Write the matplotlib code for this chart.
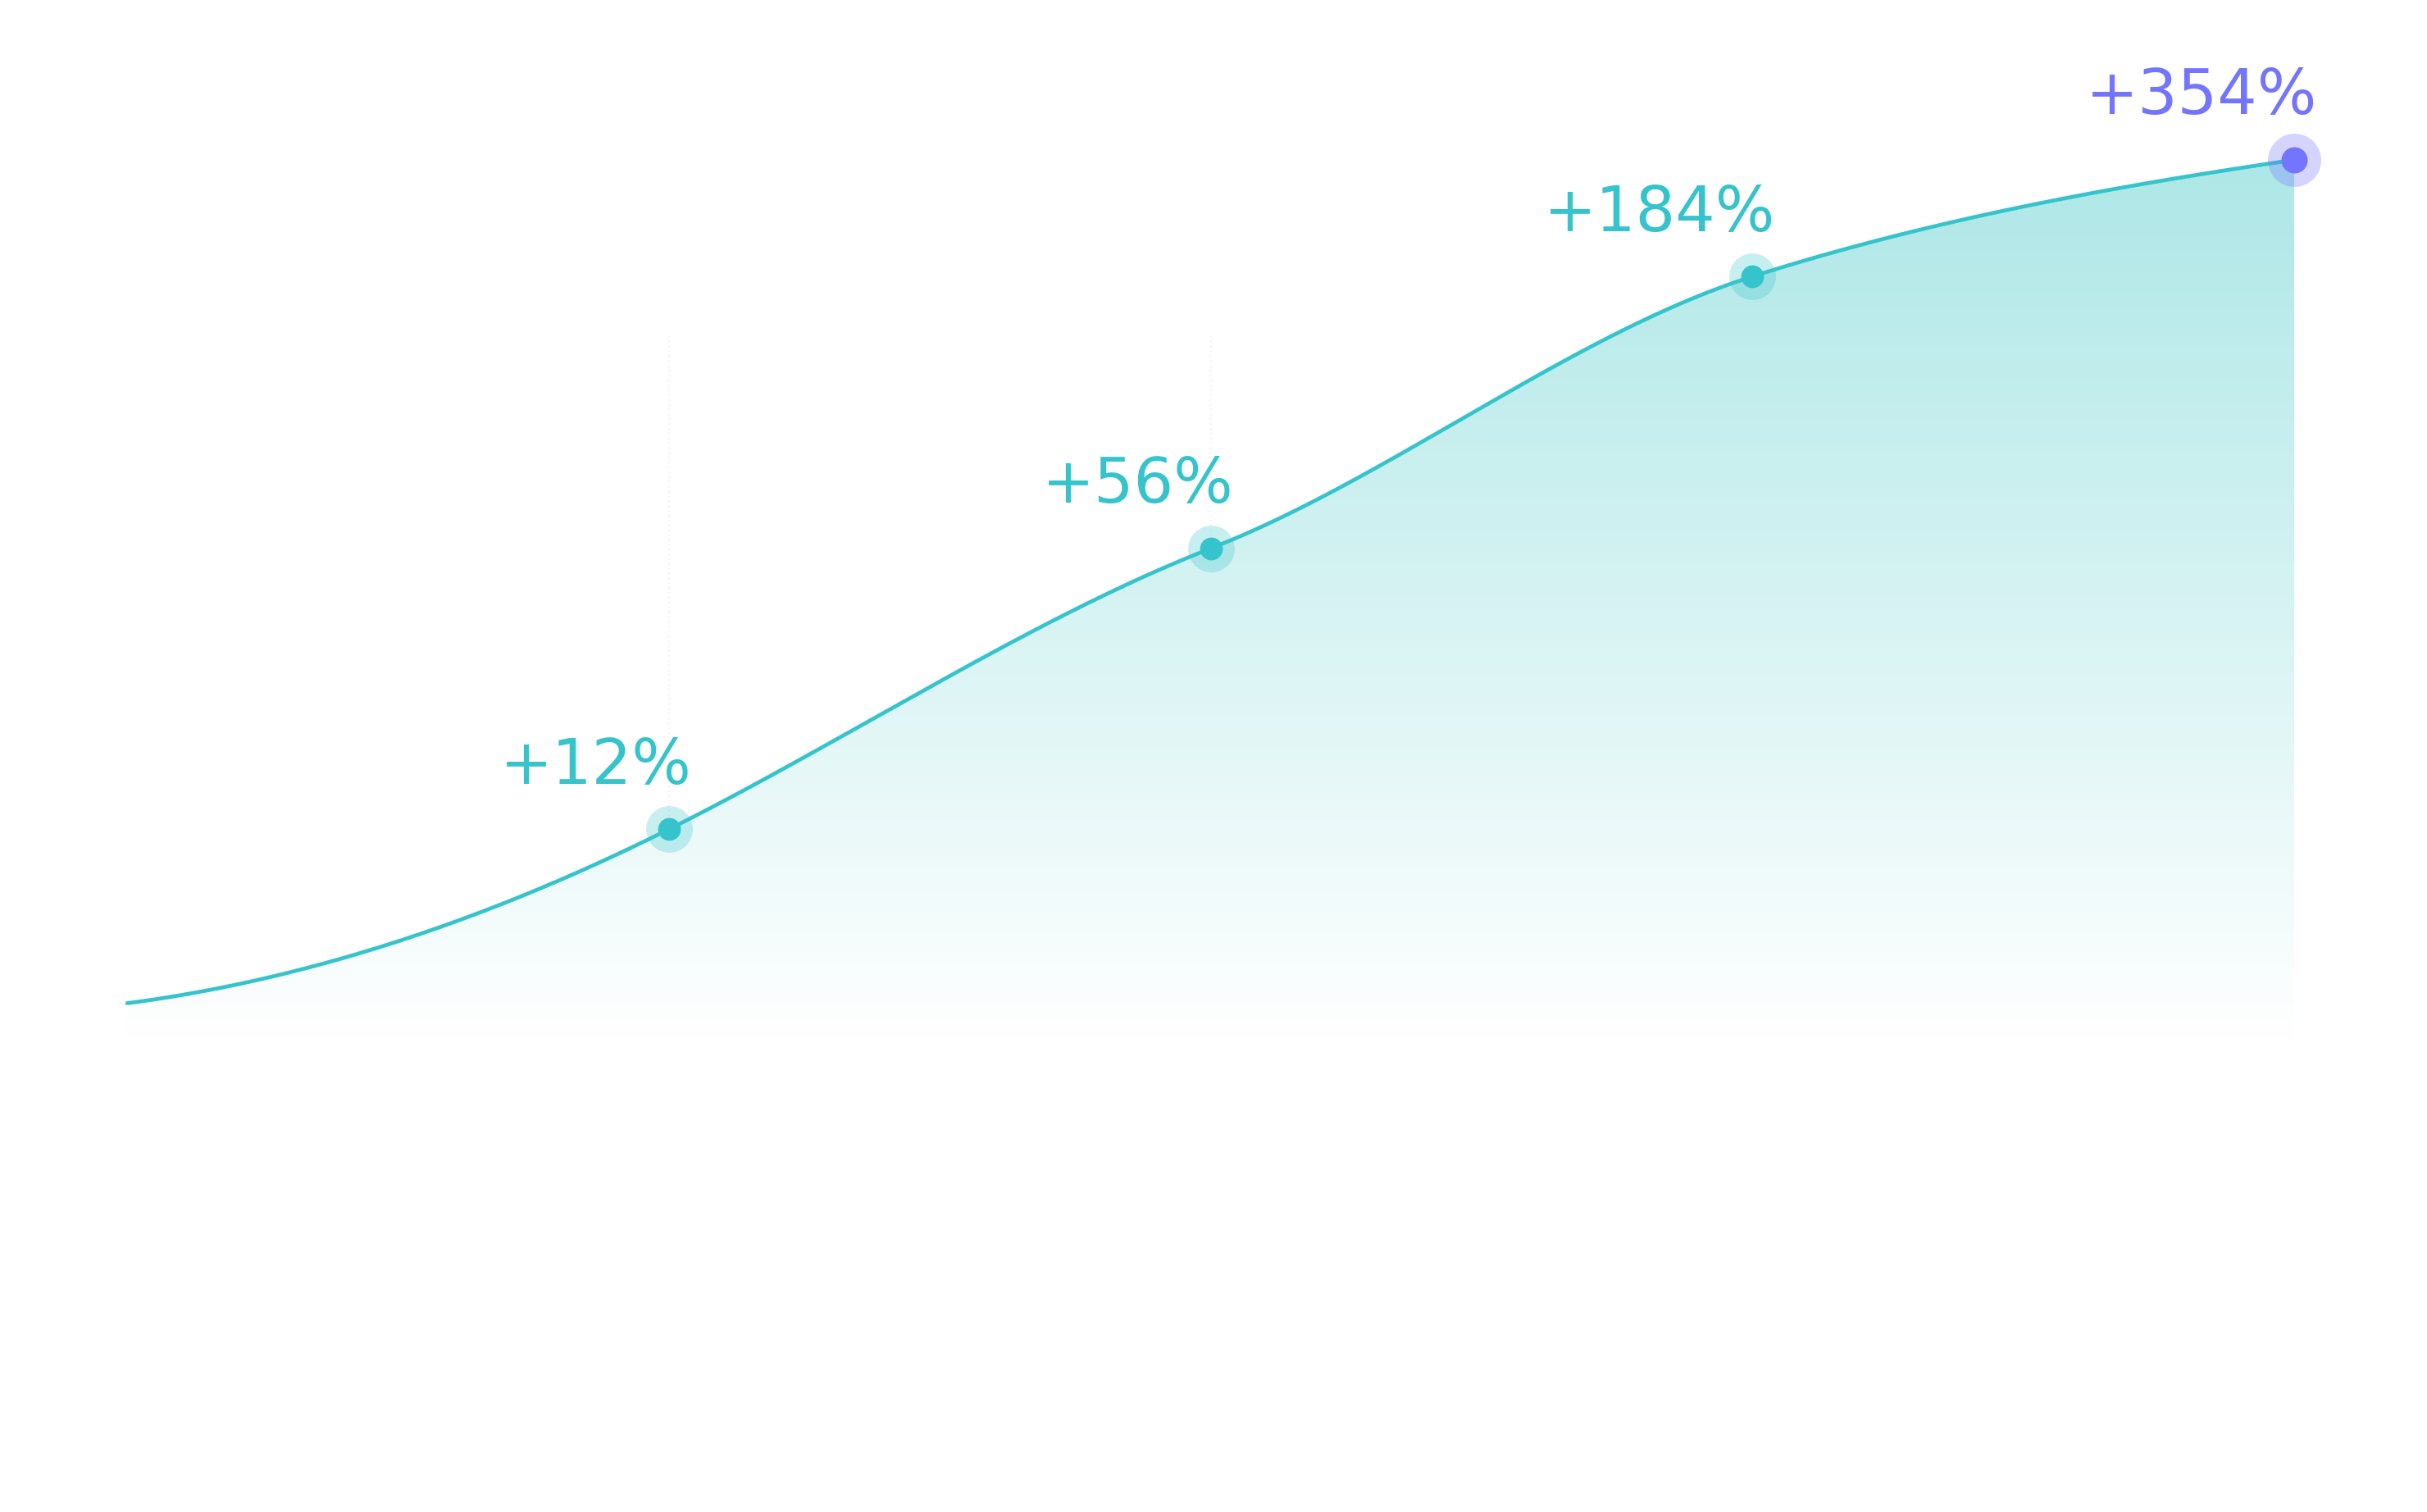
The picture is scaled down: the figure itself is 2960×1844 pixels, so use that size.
import numpy as np
import matplotlib
matplotlib.use("Agg")
import matplotlib.pyplot as plt
from matplotlib.colors import LinearSegmentedColormap
from matplotlib.patches import Polygon

# growth index (last point = 100), one value per period
curve_x = [0, 1, 2, 3, 4]
curve_y = [4.5, 24.2, 56.0, 86.8, 100.0]
# slope of the drawn curve at each period (index units per period)
curve_slope = [8.0, 30.7, 24.0, 19.5, 9.0]

# highlighted periods and their labels
point_x = [1, 2, 3, 4]
point_y = [24.2, 56.0, 86.8, 100.0]
point_labels = ["+12%", "+56%", "+184%", "+354%"]

TEAL = "#35c4cb"
PURPLE = "#7375ff"
FILL_TOP = "#aee7e7"


def smooth_curve(x, y, m, steps=80):
    """Cubic Hermite curve through the points with the given slopes."""
    x = np.asarray(x, float)
    y = np.asarray(y, float)
    m = np.asarray(m, float)
    xs, ys = [], []
    for i in range(len(x) - 1):
        h = x[i + 1] - x[i]
        t = np.linspace(0, 1, steps, endpoint=(i == len(x) - 2))
        h00 = 2 * t**3 - 3 * t**2 + 1
        h10 = t**3 - 2 * t**2 + t
        h01 = -2 * t**3 + 3 * t**2
        h11 = t**3 - t**2
        xs.append(x[i] + t * h)
        ys.append(h00 * y[i] + h10 * h * m[i] + h01 * y[i + 1] + h11 * h * m[i + 1])
    return np.concatenate(xs), np.concatenate(ys)


def main():
    fig = plt.figure(figsize=(14.8, 9.22), dpi=200)
    fig.patch.set_facecolor("white")
    ax = fig.add_axes([155 / 2960, 1 - 1272 / 1844, 2643 / 2960, 1077 / 1844])
    ax.set_axis_off()

    xs, ys = smooth_curve(curve_x, curve_y, curve_slope)

    # faint guide lines at the highlighted periods
    ax.vlines(point_x[:-1], 0, 80, colors="#f5f5f5", lw=0.8, linestyles=":", zorder=0)

    # gradient area under the curve
    cmap = LinearSegmentedColormap.from_list("area", ["#ffffff", FILL_TOP])
    grad = np.linspace(0, 1, 256).reshape(-1, 1)
    im = ax.imshow(grad, cmap=cmap, extent=[0, 4, 0, 100], origin="lower",
                   aspect="auto", interpolation="bicubic", zorder=1)
    verts = np.column_stack([np.r_[xs, xs[-1], xs[0]], np.r_[ys, 0, 0]])
    area = Polygon(verts, closed=True, facecolor="none", edgecolor="none",
                   transform=ax.transData)
    ax.add_patch(area)
    im.set_clip_path(area)

    ax.plot(xs, ys, color=TEAL, lw=1.7, solid_capstyle="round", zorder=2, clip_on=False)

    for i, (px, py, lab) in enumerate(zip(point_x, point_y, point_labels)):
        last = i == len(point_x) - 1
        c = PURPLE if last else TEAL
        halo, dot = (23.4, 11.5) if last else (20.5, 10)
        ax.plot(px, py, "o", ms=halo, color=c, alpha=0.3 if last else 0.27,
                mew=0, zorder=3, clip_on=False)
        ax.plot(px, py, "o", ms=dot, color=c, mew=0, zorder=4, clip_on=False)
        ax.annotate(lab, (px, py), xytext=(10, 20), textcoords="offset points",
                    ha="right", va="baseline", fontsize=27.5, color=c,
                    family="DejaVu Sans", zorder=5)

    ax.set_xlim(0, 4)
    ax.set_ylim(0, 100)
    fig.savefig("out.png", dpi=200, facecolor="white")
    plt.close(fig)


if __name__ == "__main__":
    main()
